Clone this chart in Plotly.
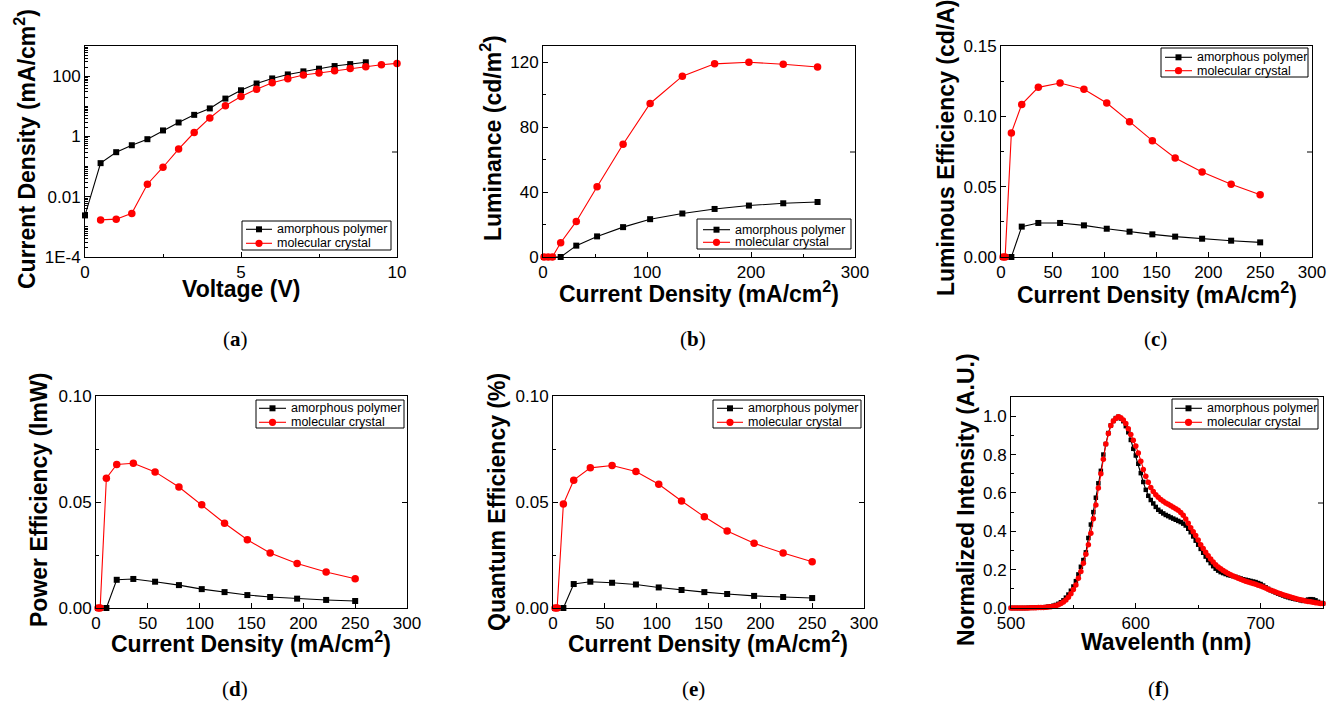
import plotly.graph_objects as go

W, H = 1328, 702
SANS = "Liberation Sans, Arial, sans-serif"
SERIF = "Liberation Serif, Times New Roman, serif"
RED = "#FF0000"
NAMES = ["amorphous polymer", "molecular crystal"]

# ---------------- data ----------------
# (a) J-V
volt_amor = [0, 0.5, 1, 1.5, 2, 2.5, 3, 3.5, 4, 4.5, 5, 5.5, 6, 6.5, 7, 7.5, 8, 8.5, 9]
jv_amor = [0.0024, 0.13, 0.30, 0.51, 0.81, 1.58, 2.9, 5.2, 8.5, 18, 34, 57, 84, 114,
           144, 177, 216, 251, 288]
volt_cryst = [0.5, 1, 1.5, 2, 2.5, 3, 3.5, 4, 4.5, 5, 5.5, 6, 6.5, 7, 7.5, 8, 8.5, 9, 9.5, 10]
jv_cryst = [0.0017, 0.0018, 0.0028, 0.026, 0.095, 0.38, 1.35, 4.1, 10.5, 21, 37, 60, 82,
            109, 127, 151, 181, 206, 238, 265]

# (b) Luminance vs current density
lum_j = [1, 5, 9, 17, 32, 52, 77, 103, 134, 165, 198, 231, 264]
lum_amor = [0, 0, 0, 0, 7.0, 12.7, 18.4, 23.3, 26.8, 29.6, 31.7, 33.1, 33.9]
lum_cryst = [0, 0, 0, 8.8, 21.9, 43.3, 69.5, 94.6, 111.4, 119.0, 120.0, 118.8, 117.1]

# (c)-(e) efficiencies vs current density
eff_j = [2, 4, 10, 20, 36, 57, 80, 102, 124, 146, 168, 194, 222, 250]
le_amor = [0, 0, 0, 0.0216, 0.0242, 0.0242, 0.0225, 0.0201, 0.0180, 0.0161, 0.0145,
           0.0130, 0.0116, 0.0104]
le_cryst = [0, 0, 0.0882, 0.1085, 0.1206, 0.1237, 0.1192, 0.1095, 0.0962, 0.0827, 0.0704,
            0.0604, 0.0517, 0.0443]
pe_amor = [0, 0, 0, 0.0133, 0.0137, 0.0124, 0.0108, 0.0089, 0.0075, 0.0061, 0.0052,
           0.0044, 0.0038, 0.0033]
pe_cryst = [0, 0, 0.0612, 0.0677, 0.0683, 0.0642, 0.0571, 0.0487, 0.0400, 0.0322, 0.0259,
            0.0210, 0.0170, 0.0138]
qe_amor = [0, 0, 0, 0.0113, 0.0124, 0.0119, 0.0111, 0.0097, 0.0085, 0.0075, 0.0066,
           0.0057, 0.0052, 0.0047]
qe_cryst = [0, 0, 0.0490, 0.0603, 0.0661, 0.0672, 0.0644, 0.0584, 0.0505, 0.0430, 0.0363,
            0.0305, 0.0259, 0.0218]

# (f) EL spectra, 500-750 nm every 2 nm
wavelength = list(range(500, 752, 2))
el_amor = [
    0, 0, 0, 0, 0, 0, 0, 0.001, 0.001, 0.001,
    0.002, 0.002, 0.003, 0.004, 0.005, 0.007, 0.009, 0.012, 0.016, 0.022,
    0.030, 0.040, 0.054, 0.070, 0.090, 0.112, 0.140, 0.175, 0.215, 0.250,
    0.290, 0.365, 0.435, 0.500, 0.575, 0.650, 0.715, 0.800, 0.855, 0.912,
    0.952, 0.975, 0.990, 0.997, 0.988, 0.974, 0.948, 0.916, 0.876, 0.830,
    0.795, 0.752, 0.703, 0.657, 0.616, 0.585, 0.563, 0.545, 0.527, 0.512,
    0.502, 0.493, 0.485, 0.479, 0.472, 0.466, 0.460, 0.454, 0.448, 0.440,
    0.430, 0.413, 0.395, 0.373, 0.351, 0.330, 0.308, 0.288, 0.268, 0.250,
    0.234, 0.218, 0.205, 0.195, 0.187, 0.182, 0.177, 0.172, 0.169, 0.166,
    0.162, 0.158, 0.154, 0.150, 0.147, 0.144, 0.141, 0.138, 0.135, 0.130,
    0.125, 0.117, 0.108, 0.100, 0.093, 0.087, 0.081, 0.075, 0.070, 0.065,
    0.060, 0.056, 0.052, 0.049, 0.046, 0.043, 0.040, 0.037, 0.040, 0.044,
    0.046, 0.045, 0.040, 0.032, 0.026, 0.023,
]
el_cryst = [
    0, 0, 0, 0, 0, 0, 0, 0, 0.001, 0.001,
    0.001, 0.002, 0.002, 0.003, 0.004, 0.005, 0.007, 0.009, 0.012, 0.017,
    0.023, 0.031, 0.042, 0.056, 0.074, 0.096, 0.120, 0.155, 0.190, 0.233,
    0.280, 0.330, 0.390, 0.465, 0.537, 0.625, 0.700, 0.775, 0.855, 0.910,
    0.952, 0.975, 0.988, 0.997, 0.992, 0.980, 0.962, 0.935, 0.905, 0.875,
    0.845, 0.808, 0.765, 0.722, 0.687, 0.655, 0.628, 0.607, 0.590, 0.578,
    0.566, 0.556, 0.548, 0.541, 0.533, 0.525, 0.517, 0.510, 0.498, 0.483,
    0.464, 0.442, 0.418, 0.398, 0.378, 0.354, 0.330, 0.310, 0.290, 0.272,
    0.256, 0.240, 0.226, 0.214, 0.204, 0.196, 0.188, 0.180, 0.173, 0.167,
    0.161, 0.155, 0.150, 0.145, 0.140, 0.136, 0.132, 0.128, 0.124, 0.119,
    0.115, 0.110, 0.104, 0.098, 0.093, 0.088, 0.083, 0.078, 0.074, 0.069,
    0.065, 0.061, 0.057, 0.054, 0.050, 0.046, 0.043, 0.040, 0.037, 0.034,
    0.032, 0.030, 0.028, 0.026, 0.024, 0.023,
]

# ---------------- layout helpers ----------------
def fx(px):
    return px / W


def fy(py):
    return 1 - py / H


CUR = "Current Density (mA/cm<sup>2</sup>)"
panels = [
    dict(key="a", box=(85, 46, 397, 257), x=(volt_amor, volt_cryst), y=(jv_amor, jv_cryst),
         xr=[0, 10], xd=5, xm=2.5, yr=[-4, 3], ylog=True, yd=None, ym=None, yf=None,
         xt="Voltage (V)", yt="Current Density (mA/cm<sup>2</sup>)",
         xt_pos=(241, 289), yt_pos=(25, 149), lab=(235, 339), ms=(6, 7.5)),
    dict(key="b", box=(543, 46, 855, 257), x=(lum_j, lum_j), y=(lum_amor, lum_cryst),
         xr=[0, 300], xd=100, xm=50, yr=[0, 130], ylog=False, yd=40, ym=20, yf=None,
         xt=CUR, yt="Luminance (cd/m<sup>2</sup>)",
         xt_pos=(699, 292), yt_pos=(491, 138), lab=(693, 339), ms=(6, 7.5)),
    dict(key="c", box=(1001, 46, 1312, 257), x=(eff_j, eff_j), y=(le_amor, le_cryst),
         xr=[0, 300], xd=50, xm=None, yr=[0, 0.15], ylog=False, yd=0.05, ym=0.025, yf=".2f",
         xt=CUR, yt="Luminous Efficiency (cd/A)",
         xt_pos=(1157, 293), yt_pos=(946, 148), lab=(1155, 339), ms=(6, 7.5)),
    dict(key="d", box=(96, 396, 407, 608), x=(eff_j, eff_j), y=(pe_amor, pe_cryst),
         xr=[0, 300], xd=50, xm=None, yr=[0, 0.10], ylog=False, yd=0.05, ym=0.025, yf=".2f",
         xt=CUR, yt="Power Efficiency (lmW)",
         xt_pos=(251, 642), yt_pos=(39, 500), lab=(235, 689), ms=(6, 7.5)),
    dict(key="e", box=(553, 396, 864, 608), x=(eff_j, eff_j), y=(qe_amor, qe_cryst),
         xr=[0, 300], xd=50, xm=None, yr=[0, 0.10], ylog=False, yd=0.05, ym=0.025, yf=".2f",
         xt=CUR, yt="Quantum Efficiency (%)",
         xt_pos=(708, 642), yt_pos=(497, 502), lab=(693, 689), ms=(6, 7.5)),
    dict(key="f", box=(1011, 397, 1323, 608), x=(wavelength, wavelength), y=(el_amor, el_cryst),
         xr=[500, 750], xd=100, xm=50, yr=[0, 1.1], ylog=False, yd=0.2, ym=0.1, yf=".1f",
         xt="Wavelenth (nm)", yt="Normalized Intensity (A.U.)",
         xt_pos=(1166, 642), yt_pos=(966, 500), lab=(1158, 689), ms=(4.5, 5.5)),
]

legends = {
    "a": dict(box=(242, 221, 391, 250), rows=(229.3, 243.3), line=(246, 272), text=275),
    "b": dict(box=(697, 219, 851, 249), rows=(229.7, 242.3), line=(703, 730), text=733),
    "c": dict(box=(1161, 48, 1308, 77), rows=(57.3, 70.7), line=(1165, 1192), text=1195),
    "d": dict(box=(256, 400, 404, 428), rows=(408.3, 422.3), line=(259, 286), text=289),
    "e": dict(box=(713, 400, 861, 428), rows=(408.3, 422.3), line=(717, 743), text=746),
    "f": dict(box=(1172, 399, 1318, 429), rows=(408.3, 422.3), line=(1175, 1202), text=1205),
}

fig = go.Figure()
layout = dict(
    width=W, height=H, margin=dict(l=0, r=0, t=0, b=0, autoexpand=False),
    paper_bgcolor="white", plot_bgcolor="white", showlegend=False,
    font=dict(family=SANS, color="black"),
)
annotations = []
shapes = []

axis_common = dict(
    showline=True, linecolor="black", linewidth=1, mirror=True,
    ticks="inside", ticklen=5, tickwidth=1, tickcolor="black",
    showgrid=False, zeroline=False, fixedrange=True, automargin=False,
    tickfont=dict(family=SANS, size=17, color="black"),
)
minor_common = dict(ticks="inside", ticklen=3, tickwidth=1, tickcolor="black", showgrid=False)

for i, p in enumerate(panels, start=1):
    xa = "x" if i == 1 else f"x{i}"
    ya = "y" if i == 1 else f"y{i}"
    xname = "xaxis" if i == 1 else f"xaxis{i}"
    yname = "yaxis" if i == 1 else f"yaxis{i}"
    x0, y0, x1, y1 = p["box"]

    xax = dict(axis_common, domain=[fx(x0), fx(x1)], anchor=ya, range=p["xr"],
               tickmode="linear", tick0=p["xr"][0], dtick=p["xd"])
    if p["xm"]:
        xax["minor"] = dict(minor_common, dtick=p["xm"], tick0=p["xr"][0])
    yax = dict(axis_common, domain=[fy(y1), fy(y0)], anchor=xa)
    if p["ylog"]:
        decades = [10.0 ** k for k in range(-4, 4)]
        yax.update(type="log", range=p["yr"], tickmode="array",
                   tickvals=[1e-4, 1e-2, 1, 100], ticktext=["1E-4", "0.01", "1", "100"])
        minors = []
        for d in decades:
            minors += [d * m for m in range(2, 10)]
        minors += [1e-3, 1e-1, 10, 1000]
        yax["minor"] = dict(minor_common, ticklen=2.5, tickmode="array", tickvals=minors)
    else:
        yax.update(range=p["yr"], tickmode="linear", tick0=0, dtick=p["yd"])
        if p["ym"]:
            yax["minor"] = dict(minor_common, dtick=p["ym"], tick0=0)
        if p["yf"]:
            yax["tickformat"] = p["yf"]
    layout[xname] = xax
    layout[yname] = yax

    # single inward tick at the middle of the right-hand frame (as in the original)
    ymid = (y0 + y1) / 2 + 0.5
    shapes.append(dict(type="line", xref="paper", yref="paper",
                       x0=fx(x1 - 5), x1=fx(x1), y0=fy(ymid), y1=fy(ymid),
                       line=dict(color="black", width=1)))

    ms_sq, ms_c = p["ms"]
    fig.add_trace(go.Scatter(
        x=p["x"][0], y=p["y"][0], name=NAMES[0], mode="lines+markers", xaxis=xa, yaxis=ya,
        line=dict(color="black", width=1.1),
        marker=dict(symbol="square", size=ms_sq, color="black", line=dict(width=0)),
        cliponaxis=False,
    ))
    fig.add_trace(go.Scatter(
        x=p["x"][1], y=p["y"][1], name=NAMES[1], mode="lines+markers", xaxis=xa, yaxis=ya,
        line=dict(color=RED, width=1.1),
        marker=dict(symbol="circle", size=ms_c, color=RED, line=dict(width=0)),
        cliponaxis=False,
    ))

    # axis titles
    annotations.append(dict(text=f"<b>{p['xt']}</b>", x=fx(p["xt_pos"][0]), y=fy(p["xt_pos"][1]),
                            xref="paper", yref="paper", xanchor="center", yanchor="middle",
                            showarrow=False, font=dict(family=SANS, size=23, color="black")))
    annotations.append(dict(text=f"<b>{p['yt']}</b>", x=fx(p["yt_pos"][0]), y=fy(p["yt_pos"][1]),
                            xref="paper", yref="paper", xanchor="center", yanchor="middle",
                            textangle=-90, showarrow=False,
                            font=dict(family=SANS, size=23, color="black")))
    # panel label
    annotations.append(dict(text=f"(<b>{p['key']}</b>)", x=fx(p["lab"][0]), y=fy(p["lab"][1]),
                            xref="paper", yref="paper", xanchor="center", yanchor="middle",
                            showarrow=False, font=dict(family=SERIF, size=21, color="black")))

    # legend box (drawn like the original Origin legend)
    lg = legends[p["key"]]
    bx0, by0, bx1, by1 = lg["box"]
    shapes.append(dict(type="rect", xref="paper", yref="paper",
                       x0=fx(bx0), x1=fx(bx1), y0=fy(by1), y1=fy(by0),
                       line=dict(color="black", width=1), fillcolor="white"))
    lx0, lx1 = lg["line"]
    cx = (lx0 + lx1) / 2
    for r, (ry, col) in enumerate(zip(lg["rows"], ["black", RED])):
        shapes.append(dict(type="line", xref="paper", yref="paper",
                           x0=fx(lx0), x1=fx(lx1), y0=fy(ry), y1=fy(ry),
                           line=dict(color=col, width=1.1)))
        if r == 0:
            h = 3
            shapes.append(dict(type="rect", xref="paper", yref="paper",
                               x0=fx(cx - h), x1=fx(cx + h), y0=fy(ry + h), y1=fy(ry - h),
                               line=dict(width=0), fillcolor="black"))
        else:
            h = 3.6
            shapes.append(dict(type="circle", xref="paper", yref="paper",
                               x0=fx(cx - h), x1=fx(cx + h), y0=fy(ry + h), y1=fy(ry - h),
                               line=dict(width=0), fillcolor=RED))
        annotations.append(dict(text=NAMES[r], x=fx(lg["text"]), y=fy(ry),
                                xref="paper", yref="paper", xanchor="left", yanchor="middle",
                                showarrow=False, font=dict(family=SANS, size=12.5, color="black")))

layout["annotations"] = annotations
layout["shapes"] = shapes
fig.update_layout(**layout)
fig.write_html("out.html")
